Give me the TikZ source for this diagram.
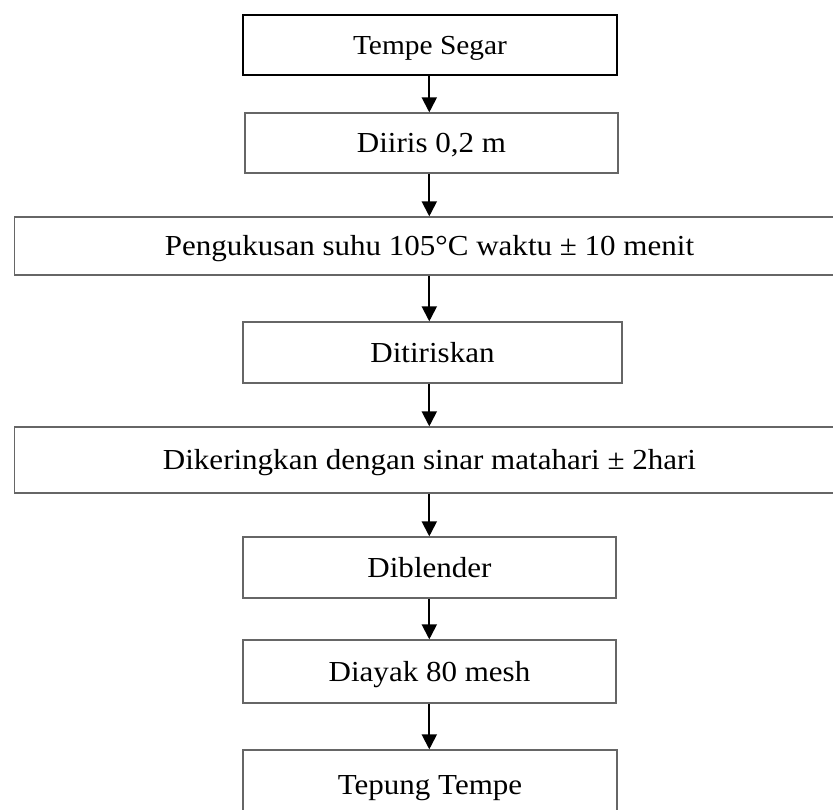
\documentclass[tikz,border=0pt]{standalone}
\usepackage{fontspec}
\setmainfont{Liberation Serif}[FakeStretch=1.07]
\usetikzlibrary{arrows.meta}
\definecolor{boxgray}{HTML}{666666}
\begin{document}
\begin{tikzpicture}[x=1pt,y=-1pt,
  stepbox/.style={draw=boxgray, line width=1.3pt, fill=white, inner sep=0pt,
    font=\fontsize{29}{34}\selectfont, text height=22pt, text depth=3pt},
  startbox/.style={stepbox, draw=black, line width=2.3pt, font=\fontsize{27.5}{33}\selectfont},
  flow/.style={line width=2pt, black, -{Triangle[length=15pt,width=15pt]}}]
\clip (0,0) rectangle (833,809);
\fill[white] (0,0) rectangle (833,809);
\coordinate (ax) at (429.3,0);
\node[startbox, minimum width=374pt, minimum height=60pt] (n1) at (430,45) {Tempe Segar};
\node[stepbox, minimum width=373pt, minimum height=60pt] (n2) at (431.5,143) {Diiris 0,2 m};
\node[stepbox, minimum width=830pt, minimum height=58pt] (n3) at (429.5,246) {Pengukusan suhu 105°C waktu ± 10 menit};
\node[stepbox, minimum width=379pt, minimum height=61pt] (n4) at (432.5,352.5) {Ditiriskan};
\node[stepbox, minimum width=830pt, minimum height=66pt] (n5) at (429.5,460) {Dikeringkan dengan sinar matahari ± 2hari};
\node[stepbox, minimum width=373pt, minimum height=61pt] (n6) at (429.5,567.5) {Diblender};
\node[stepbox, minimum width=373pt, minimum height=63pt] (n7) at (429.5,671.5) {Diayak 80 mesh};
\node[stepbox, minimum width=374pt, minimum height=69pt] (n8) at (430,784.5) {Tepung Tempe};
\draw[flow] (n1.south -| ax) -- (n2.north -| ax);
\draw[flow] (n2.south -| ax) -- (n3.north -| ax);
\draw[flow] (n3.south -| ax) -- (n4.north -| ax);
\draw[flow] (n4.south -| ax) -- (n5.north -| ax);
\draw[flow] (n5.south -| ax) -- (n6.north -| ax);
\draw[flow] (n6.south -| ax) -- (n7.north -| ax);
\draw[flow] (n7.south -| ax) -- (n8.north -| ax);
\end{tikzpicture}
\end{document}
